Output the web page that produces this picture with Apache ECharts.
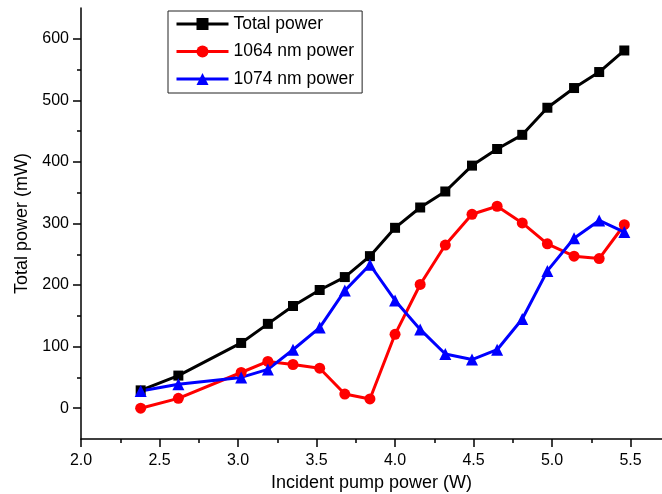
<!DOCTYPE html>
<html>
<head>
<meta charset="utf-8">
<script src="https://cdn.jsdelivr.net/npm/echarts@6/dist/echarts.min.js"></script>
<style>
  html, body { margin: 0; padding: 0; background: #fff; }
  #chart { width: 662px; height: 494px; }
</style>
</head>
<body>
<div id="chart"></div>
<script>
  // 入射泵浦功率 (W)
  const pumpPower = [2.38, 2.62, 3.02, 3.19, 3.35, 3.52, 3.68, 3.84, 4.00, 4.16, 4.32, 4.49, 4.65, 4.81, 4.97, 5.14, 5.30, 5.46];
  const totalPower = [29, 53, 106, 137, 166, 192, 213, 247, 293, 326, 352, 394, 421, 444, 488, 520, 546, 581];
  const power1064 = [0, 16, 58, 76, 71, 65, 23, 15, 120, 201, 265, 315, 328, 301, 267, 247, 243, 298];
  const power1074 = [28, 39, 50, 63, 95, 131, 191, 233, 175, 128, 88, 79, 95, 145, 223, 276, 305, 286];

  const xTickLabels = [2.0, 2.5, 3.0, 3.5, 4.0, 4.5, 5.0, 5.5];
  const xMinorTicks = [2.25, 2.75, 3.25, 3.75, 4.25, 4.75, 5.25];
  const yTickLabels = [0, 100, 200, 300, 400, 500, 600];
  const yMinorTicks = [50, 150, 250, 350, 450, 550];

  const font = 'Liberation Sans, Arial, sans-serif';
  const toPoints = (arr) => pumpPower.map((x, i) => [x, arr[i]]);

  const chart = echarts.init(document.getElementById('chart'));
  const option = {
    animation: false,
    backgroundColor: '#fff',
    textStyle: { fontFamily: font, color: '#000' },
    grid: { left: 81, right: 0, top: 8, bottom: 55, containLabel: false, outerBoundsMode: 'none' },
    legend: {
      orient: 'vertical',
      left: 168,
      top: 11,
      padding: [3, 8, 4, 7],
      itemWidth: 52,
      itemHeight: 15,
      itemGap: 7.5,
      borderColor: '#222',
      borderWidth: 1,
      lineStyle: { width: 3 },
      textStyle: { fontFamily: font, fontSize: 17.5, color: '#000', lineHeight: 20 },
      data: ['Total power', '1064 nm power', '1074 nm power']
    },
    xAxis: [{
      type: 'value',
      min: 2.0,
      max: 5.7,
      interval: 0.5,
      name: 'Incident pump power (W)',
      nameLocation: 'middle',
      nameGap: 34,
      nameTextStyle: { fontFamily: font, fontSize: 18, color: '#000' },
      axisLine: { show: true, onZero: false, lineStyle: { color: '#000', width: 1.5 } },
      axisTick: { show: true, customValues: xTickLabels, length: 8, lineStyle: { color: '#000', width: 1.5 } },
      axisLabel: {
        customValues: xTickLabels,
        margin: 14,
        fontSize: 16,
        color: '#000',
        formatter: (v) => v.toFixed(1)
      },
      splitLine: { show: false }
    }, {
      // 次刻度
      type: 'value',
      min: 2.0,
      max: 5.7,
      interval: 0.5,
      position: 'bottom',
      axisLine: { show: false, onZero: false },
      axisTick: { show: true, customValues: xMinorTicks, length: 4, lineStyle: { color: '#000', width: 1.5 } },
      axisLabel: { show: false },
      splitLine: { show: false }
    }],
    yAxis: [{
      type: 'value',
      min: -50,
      max: 650,
      interval: 50,
      name: 'Total power (mW)',
      nameLocation: 'middle',
      nameGap: 45,
      nameTextStyle: { fontFamily: font, fontSize: 18, color: '#000' },
      axisLine: { show: true, onZero: false, lineStyle: { color: '#000', width: 1.5 } },
      axisTick: { show: true, customValues: yTickLabels, length: 8, lineStyle: { color: '#000', width: 1.5 } },
      axisLabel: { customValues: yTickLabels, margin: 12, fontSize: 16, color: '#000' },
      splitLine: { show: false }
    }, {
      type: 'value',
      min: -50,
      max: 650,
      interval: 50,
      position: 'left',
      axisLine: { show: false, onZero: false },
      axisTick: { show: true, customValues: yMinorTicks, length: 4, lineStyle: { color: '#000', width: 1.5 } },
      axisLabel: { show: false },
      splitLine: { show: false }
    }],
    series: [{
      name: 'Total power',
      type: 'line',
      data: toPoints(totalPower),
      symbol: 'rect',
      symbolSize: 10,
      color: '#000000',
      lineStyle: { width: 3, color: '#000000' },
      itemStyle: { color: '#000000' }
    }, {
      name: '1064 nm power',
      type: 'line',
      data: toPoints(power1064),
      symbol: 'circle',
      symbolSize: 11,
      color: '#ff0000',
      lineStyle: { width: 3, color: '#ff0000' },
      itemStyle: { color: '#ff0000' }
    }, {
      name: '1074 nm power',
      type: 'line',
      data: toPoints(power1074),
      symbol: 'triangle',
      symbolSize: 12,
      color: '#0000ff',
      lineStyle: { width: 3, color: '#0000ff' },
      itemStyle: { color: '#0000ff' }
    }]
  };
  chart.setOption(option);
</script>
</body>
</html>
